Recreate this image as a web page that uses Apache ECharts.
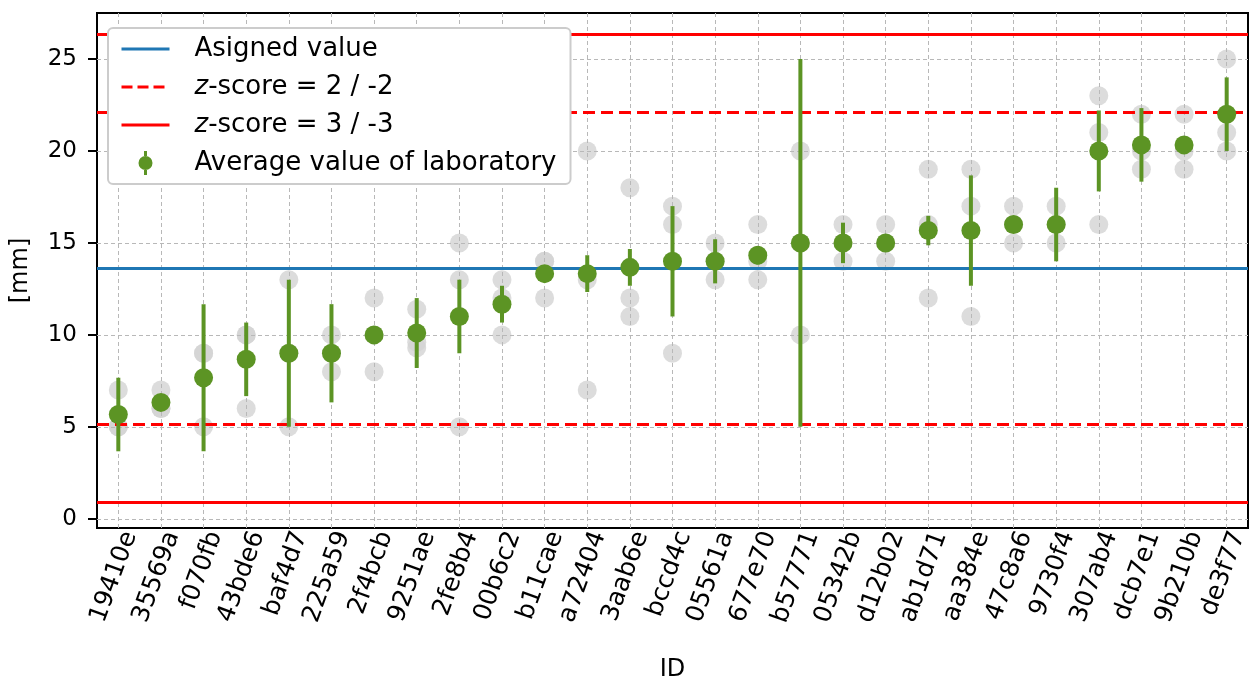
<!DOCTYPE html>
<html style="height: 100%">

<head>
    <meta charset="utf-8">
</head>

<body style="height: 100%; margin: 0">
<div id="container" style="width: 1257px; height: 681px"></div>
<script type="text/javascript" src="https://cdn.jsdelivr.net/npm/echarts@6/dist/echarts.min.js"></script>
<script type="text/javascript">
    // laboratory ids (x axis)
    var ids = ['19410e', '35569a', 'f070fb', '43bde6', 'baf4d7', '225a59', '2f4bcb', '9251ae', '2fe8b4',
        '00b6c2', 'b11cae', 'a72404', '3aab6e', 'bccd4c', '05561a', '677e70', 'b57771', '05342b',
        'd12b02', 'ab1d71', 'aa384e', '47c8a6', '9730f4', '307ab4', 'dcb7e1', '9b210b', 'de3f77'];
    // single results of each laboratory (grey dots)
    var results = [[5, 5, 7], [6, 6, 7], [5, 9, 9], [6, 10, 10], [5, 9, 13], [8, 9, 10], [8, 10, 12],
        [9.3, 9.6, 11.4], [5, 13, 15], [10, 12, 13], [12, 14, 14], [7, 13, 20], [11, 12, 18], [9, 16, 17],
        [13, 14, 15], [13, 14, 16], [10, 15, 20], [14, 15, 16], [14, 15, 16], [12, 16, 19], [11, 17, 19],
        [15, 16, 17], [15, 16, 17], [16, 21, 23], [19, 20, 22], [19, 20, 22], [20, 21, 25]];
    // average value of each laboratory
    var means = [5.67, 6.33, 7.67, 8.67, 9, 9, 10, 10.1, 11, 11.67, 13.33, 13.33, 13.67, 14, 14, 14.33,
        15, 15, 15, 15.67, 15.67, 16, 16, 20, 20.33, 20.33, 22];
    // half length of error bars
    var errors = [2, 0, 4, 2, 4, 2.67, 0, 1.9, 2, 1, 0, 1, 1, 3, 1.2, 0.5, 10, 1.1, 0, 0.8, 3, 0, 2,
        2.2, 2, 0, 2];
    var assigned = 13.6;
    var zLimits2 = [22.08, 5.12];
    var zLimits3 = [26.32, 0.88];
    var yTicks = [0, 5, 10, 15, 20, 25];

    var FONT = 'DejaVu Sans';
    var GREEN = '#5c9424';

    var dom = document.getElementById("container");
    var myChart = echarts.init(dom);

    var rawData = [];
    results.forEach(function (vals, i) {
        vals.forEach(function (v) {
            rawData.push([i, v]);
        });
    });
    var meanData = means.map(function (m, i) { return [i, m]; });
    var errData = means.map(function (m, i) { return [i, m, errors[i]]; });

    var gridLine = {color: '#b8b8b8', width: 1, type: [4, 3]};
    var noLabel = {show: false};
    var hideSymbol = {opacity: 0};

    var option = {
        animation: false,
        backgroundColor: '#fff',
        grid: {
            left: 97, right: 9, top: 13, bottom: 153,
            outerBoundsMode: 'none',
            show: true, borderColor: '#000', borderWidth: 2
        },
        legend: {
            orient: 'vertical',
            left: 108, top: 28,
            padding: [6, 14, 6, 12],
            itemGap: 8,
            itemWidth: 48,
            itemHeight: 24,
            backgroundColor: '#ffffff',
            borderColor: '#cccccc',
            borderWidth: 2,
            borderRadius: 5,
            data: [
                {name: 'Asigned value', itemStyle: hideSymbol,
                    lineStyle: {color: '#1f77b4', width: 3, type: 'solid'}},
                {name: 'z-score = 2 / -2', itemStyle: hideSymbol,
                    lineStyle: {color: '#ff0000', width: 3, type: [11, 5]}},
                {name: 'z-score = 3 / -3', itemStyle: hideSymbol,
                    lineStyle: {color: '#ff0000', width: 3, type: 'solid'}},
                {name: 'Average value of laboratory',
                    icon: 'path://M5.5,0L8.5,0L8.5,5L5.5,5Z M5.5,19L8.5,19L8.5,24L5.5,24Z M14,12A7,7,0,1,1,0,12A7,7,0,1,1,14,12Z'}
            ],
            formatter: function (name) {
                return name.replace(/^z-/, '{i|z}-');
            },
            textStyle: {
                fontFamily: FONT, fontSize: 26, color: '#000', lineHeight: 30,
                padding: [0, 0, 0, 20],
                rich: {i: {fontFamily: FONT, fontSize: 26, fontStyle: 'italic', color: '#000'}}
            }
        },
        xAxis: {
            type: 'category',
            data: ids,
            boundaryGap: true,
            name: 'ID',
            nameLocation: 'middle',
            nameGap: 130,
            nameTextStyle: {fontFamily: FONT, fontSize: 24, color: '#000'},
            axisLine: {onZero: false, lineStyle: {color: '#000', width: 2}},
            axisTick: {alignWithLabel: true, length: 9, lineStyle: {color: '#000', width: 2}},
            axisLabel: {rotate: 70, interval: 0, margin: 0, verticalAlign: 'top',
                fontFamily: FONT, fontSize: 25, color: '#000'},
            splitLine: {show: false}
        },
        yAxis: {
            type: 'value',
            min: -0.5,
            max: 27.5,
            name: '[mm]',
            nameLocation: 'middle',
            nameRotate: 90,
            nameGap: 64,
            nameTextStyle: {fontFamily: FONT, fontSize: 24, color: '#000'},
            axisLine: {show: true, onZero: false, lineStyle: {color: '#000', width: 2}},
            axisTick: {show: true, length: 9, customValues: yTicks, lineStyle: {color: '#000', width: 2}},
            axisLabel: {customValues: yTicks, margin: 20, fontFamily: FONT, fontSize: 23, color: '#000'},
            splitLine: {show: false}
        },
        series: [
            {
                name: 'results',
                type: 'scatter',
                data: rawData,
                symbolSize: 19,
                itemStyle: {color: '#d3d3d3'},
                z: 1,
                silent: true
            },
            {
                name: 'grid',
                type: 'line',
                data: [],
                z: 2,
                silent: true,
                markLine: {
                    z: 2,
                    silent: true,
                    symbol: ['none', 'none'],
                    label: noLabel,
                    lineStyle: gridLine,
                    data: ids.map(function (id) { return {xAxis: id}; })
                        .concat(yTicks.map(function (t) { return {yAxis: t}; }))
                }
            },
            {
                name: 'Asigned value',
                type: 'line',
                data: [],
                symbol: 'none',
                color: '#1f77b4',
                lineStyle: {color: '#1f77b4', width: 3},
                z: 3,
                markLine: {
                    z: 3,
                    silent: true,
                    symbol: ['none', 'none'],
                    label: noLabel,
                    lineStyle: {color: '#1f77b4', width: 3, type: 'solid'},
                    data: [{yAxis: assigned}]
                }
            },
            {
                name: 'z-score = 2 / -2',
                type: 'line',
                data: [],
                symbol: 'none',
                color: '#ff0000',
                lineStyle: {color: '#ff0000', width: 3, type: [11, 5]},
                z: 3,
                markLine: {
                    z: 3,
                    silent: true,
                    symbol: ['none', 'none'],
                    label: noLabel,
                    lineStyle: {color: '#ff0000', width: 3, type: [12, 6]},
                    data: zLimits2.map(function (v) { return {yAxis: v}; })
                }
            },
            {
                name: 'z-score = 3 / -3',
                type: 'line',
                data: [],
                symbol: 'none',
                color: '#ff0000',
                lineStyle: {color: '#ff0000', width: 3},
                z: 3,
                markLine: {
                    z: 3,
                    silent: true,
                    symbol: ['none', 'none'],
                    label: noLabel,
                    lineStyle: {color: '#ff0000', width: 3, type: 'solid'},
                    data: zLimits3.map(function (v) { return {yAxis: v}; })
                }
            },
            {
                name: 'errorbars',
                type: 'custom',
                data: errData,
                z: 4,
                silent: true,
                encode: {x: 0, y: 1},
                renderItem: function (params, api) {
                    var x = api.value(0), m = api.value(1), e = api.value(2);
                    var p1 = api.coord([x, m + e]);
                    var p2 = api.coord([x, m - e]);
                    return {
                        type: 'line',
                        shape: {x1: p1[0], y1: p1[1], x2: p2[0], y2: p2[1]},
                        style: {stroke: GREEN, lineWidth: 4}
                    };
                }
            },
            {
                name: 'Average value of laboratory',
                type: 'scatter',
                data: meanData,
                symbolSize: 19,
                itemStyle: {color: GREEN, opacity: 1},
                z: 5
            }
        ]
    };
    myChart.setOption(option, true);
</script>
</body>

</html>
